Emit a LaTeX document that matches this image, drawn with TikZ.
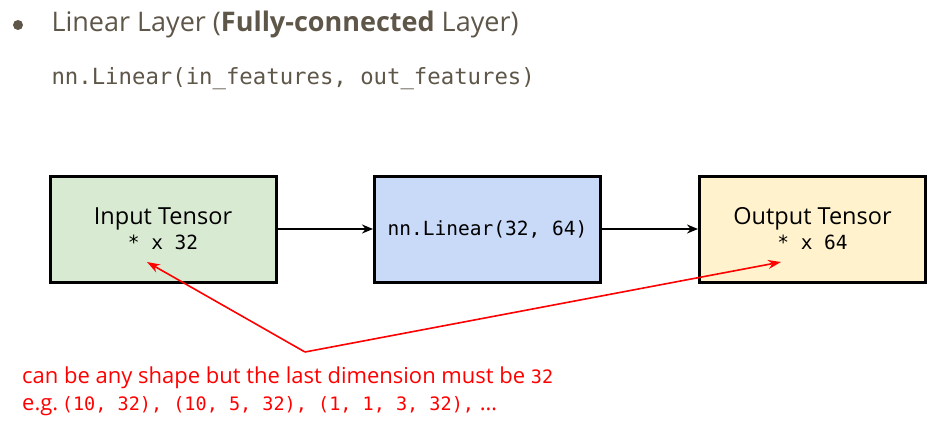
\documentclass[tikz,border=0pt]{standalone}
\usepackage{fontspec}
\setmainfont{Open Sans}
\setmonofont{DejaVu Sans Mono}
\usepackage{tikz}
\usetikzlibrary{arrows.meta}

\definecolor{titlegray}{RGB}{94,86,72}
\definecolor{ingreen}{RGB}{217,234,211}
\definecolor{layerblue}{RGB}{201,218,248}
\definecolor{outyellow}{RGB}{255,242,204}
\definecolor{notered}{RGB}{255,0,0}

\newcommand{\boxmono}[1]{{\ttfamily\fontsize{19.5}{24}\selectfont #1}}
\newcommand{\notemono}[1]{{\ttfamily\fontsize{18.5}{24}\selectfont #1}}

\tikzset{
    tensorbox/.style={draw=black, line width=3pt, minimum width=226pt, minimum height=106pt, align=center, font=\fontsize{23.5}{28}\selectfont},
    flow/.style={->, >={Stealth[length=11pt,width=9pt]}, line width=2.5pt},
    hint/.style={->, >={Stealth[length=13pt,width=9pt]}, draw=notered, line width=1.6pt},
}

\begin{document}
\begin{tikzpicture}[x=1pt, y=-1pt]
    \useasboundingbox (0,0) rectangle (940,421);
    % heading
    \fill[titlegray] (18,25) circle (5pt);
    \node[anchor=west, text=titlegray, font=\fontsize{27}{32}\selectfont] (title) at (48,24) {Linear Layer (\textbf{Fully-connected} Layer)};
    \node[anchor=west, text=titlegray, font=\ttfamily\fontsize{22.3}{26}\selectfont] (call) at (48,79) {nn.Linear(in\_features, out\_features)};
    % boxes
    \node[tensorbox, fill=ingreen] (input) at (163,229) {Input Tensor\\[-3pt]\boxmono{* x 32}};
    \node[tensorbox, fill=layerblue] (linear) at (487.5,229) {\boxmono{nn.Linear(32, 64)}};
    \node[tensorbox, fill=outyellow] (output) at (812.5,229) {Output Tensor\\[-3pt]\boxmono{* x 64}};
    \draw[flow] (input.east) -- (linear.west);
    \draw[flow] (linear.east) -- (output.west);
    % note
    \coordinate (bend) at (305,352);
    \coordinate (intip) at (147,262);
    \coordinate (outtip) at (781,262);
    \draw[hint] (bend) -- (intip);
    \draw[hint] (bend) -- (outtip);
    \node[anchor=north west, text=notered, align=left, font=\fontsize{22}{27}\selectfont, inner sep=0pt] (note) at (22,367)
        {can be any shape but the last dimension must be \notemono{32}\\
         e.g.\,\notemono{(10, 32), (10, 5, 32), (1, 1, 3, 32),} \dots};
\end{tikzpicture}
\end{document}
